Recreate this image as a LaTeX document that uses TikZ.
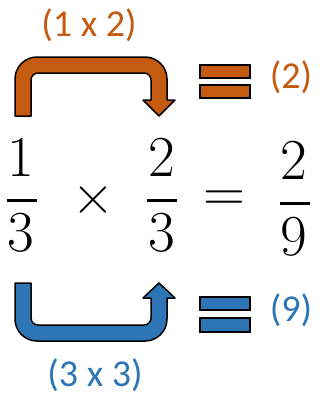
\documentclass[tikz,border=0pt]{standalone}
\usepackage{fontspec}
\newfontfamily\lblfont{Carlito}
\definecolor{uorange}{HTML}{C55A11}
\definecolor{ublue}{HTML}{2E75B6}
\begin{document}
\begin{tikzpicture}[x=1pt,y=-1pt,
  lbl/.style={font=\lblfont\fontsize{38}{42}\selectfont, inner sep=0pt},
  dig/.style={font=\fontsize{58}{62}\selectfont, inner sep=0pt},
  arrowshape/.style={draw=black, line width=1.5pt, line join=round},
  eqbar/.style={draw=black, line width=1.3pt},
  fracbar/.style={line width=3pt}]
\useasboundingbox (0,0) rectangle (323,397);
% top arrow
\draw[arrowshape, fill=uorange]
  (15,116) -- (15,79) arc[start angle=180, end angle=270, radius=22] -- (145,57)
  arc[start angle=270, end angle=360, radius=22] -- (167,100) -- (175,100) -- (159,116) -- (143,100) -- (151,100)
  -- (151,80) arc[start angle=0, end angle=-90, radius=7] -- (38,73)
  arc[start angle=-90, end angle=-180, radius=7] -- (31,116) -- cycle;
% bottom arrow
\draw[arrowshape, fill=ublue]
  (15,283) -- (15,319) arc[start angle=180, end angle=90, radius=22] -- (145,341)
  arc[start angle=90, end angle=0, radius=22] -- (167,298) -- (175,298) -- (159,283) -- (143,298) -- (151,298)
  -- (151,318) arc[start angle=0, end angle=90, radius=7] -- (38,325)
  arc[start angle=90, end angle=180, radius=7] -- (31,283) -- cycle;
% equal signs
\draw[eqbar, fill=uorange] (200,65) rectangle (250,78);
\draw[eqbar, fill=uorange] (200,85) rectangle (250,98);
\draw[eqbar, fill=ublue] (200,297) rectangle (250,310);
\draw[eqbar, fill=ublue] (200,318) rectangle (250,332);
% labels
\node[lbl, text=uorange] (l12) at (89,25) {(1 x 2)};
\node[lbl, text=uorange] (r2) at (291,77) {(2)};
\node[lbl, text=ublue] (r9) at (291,310) {(9)};
\node[lbl, text=ublue] (l33) at (95,375) {(3 x 3)};
% fractions
\node[dig] (n1) at (21,157) {1};
\draw[fracbar] (7,200) -- (37,200);
\node[dig] (d1) at (21,233) {3};
\node[dig] (times) at (93,200) {×};
\node[dig] (n2) at (162,157) {2};
\draw[fracbar] (147,200) -- (177,200);
\node[dig] (d2) at (162,233) {3};
\node[dig] (eq) at (224,201) {=};
\node[dig] (n3) at (294,160) {2};
\draw[fracbar] (280,203) -- (310,203);
\node[dig] (d3) at (294,237) {9};
\end{tikzpicture}
\end{document}
